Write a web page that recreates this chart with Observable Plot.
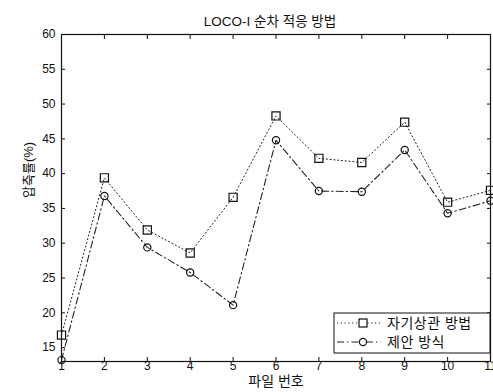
<!DOCTYPE html>
<html>
<head>
<meta charset="utf-8">
<script src="https://cdn.jsdelivr.net/npm/d3@7"></script>
<script src="https://cdn.jsdelivr.net/npm/@observablehq/plot@0.6"></script>
<style>
  html, body { margin: 0; padding: 0; background: #fff; }
  svg { display: block; }
</style>
</head>
<body>
<div id="chart"></div>
<script>
// File numbers and compression ratios (%) for the two methods
const files = [1, 2, 3, 4, 5, 6, 7, 8, 9, 10, 11];
const autoCorr = [16.8, 39.4, 31.9, 28.6, 36.6, 48.3, 42.2, 41.6, 47.4, 35.9, 37.6];
const proposed = [13.2, 36.8, 29.4, 25.8, 21.1, 44.8, 37.5, 37.4, 43.4, 34.3, 36.1];

const seriesNames = ["자기상관 방법", "제안 방식"];
const title = "LOCO-I 순차 적응 방법";
const xLabel = "파일 번호";
const yLabel = "압축률(%)";

const xTicks = [1, 2, 3, 4, 5, 6, 7, 8, 9, 10, 11];
const yTicks = [15, 20, 25, 30, 35, 40, 45, 50, 55, 60];

const rowsA = files.map((f, i) => ({file: f, value: autoCorr[i]}));
const rowsB = files.map((f, i) => ({file: f, value: proposed[i]}));

const FONT = "'Liberation Sans', Arial, 'Noto Sans CJK KR', sans-serif";
const W = 493, H = 392;
const mL = 61, mR = 3, mT = 34, mB = 31;

const dotted = "1.2,2.6";
const dashDot = "7,3,1.5,3";
const noLabel = () => "";

const plot = Plot.plot({
  width: W,
  height: H,
  marginLeft: mL,
  marginRight: mR,
  marginTop: mT,
  marginBottom: mB,
  style: {fontFamily: FONT, fontSize: "11px", color: "#111", background: "#fff", overflow: "visible"},
  x: {domain: [1, 11]},
  y: {domain: [13, 60]},
  marks: [
    Plot.frame({stroke: "#111", strokeWidth: 1.2}),
    Plot.axisX(xTicks, {anchor: "bottom", tickSize: -4, tickPadding: 4, label: null, fontSize: 12}),
    Plot.axisX(xTicks, {anchor: "top", tickSize: -4, tickFormat: noLabel, label: null}),
    Plot.axisY(yTicks, {anchor: "left", tickSize: -4, tickPadding: 10, label: null, fontSize: 12}),
    Plot.axisY(yTicks, {anchor: "right", tickSize: -4, tickFormat: noLabel, label: null}),
    Plot.line(rowsA, {x: "file", y: "value", stroke: "#222", strokeWidth: 1, strokeDasharray: dotted}),
    Plot.line(rowsB, {x: "file", y: "value", stroke: "#222", strokeWidth: 1.1, strokeDasharray: dashDot}),
    Plot.dot(rowsA, {x: "file", y: "value", symbol: "square", r: 4.6, stroke: "#111", strokeWidth: 1.2, fill: "none"}),
    Plot.dot(rowsB, {x: "file", y: "value", symbol: "circle", r: 3.6, stroke: "#111", strokeWidth: 1.2, fill: "none"}),
    Plot.text([title], {frameAnchor: "top", dx: -6, dy: -18, text: d => d, fontSize: 13.5, fill: "#111"}),
    Plot.text([xLabel], {frameAnchor: "bottom", dy: 24, text: d => d, fontSize: 14, fill: "#111"}),
    Plot.text([yLabel], {frameAnchor: "left", dx: -33, rotate: -90, text: d => d, fontSize: 13, fill: "#111"})
  ]
});

// Legend box in the lower-right corner of the axes
const svg = d3.select(plot);
const lg = svg.append("g").attr("font-family", FONT).attr("text-anchor", "start");
const bx = 334, by = 313, bw = 156, bh = 40;
lg.append("rect").attr("x", bx).attr("y", by).attr("width", bw).attr("height", bh)
  .attr("fill", "#fff").attr("stroke", "#111").attr("stroke-width", 1);
const entries = [
  {name: seriesNames[0], dash: dotted, sym: "square"},
  {name: seriesNames[1], dash: dashDot, sym: "circle"}
];
entries.forEach((e, i) => {
  const cy = by + 10 + i * 19;
  lg.append("line").attr("x1", bx + 3).attr("x2", bx + 47).attr("y1", cy).attr("y2", cy)
    .attr("stroke", "#222").attr("stroke-width", 1).attr("stroke-dasharray", e.dash);
  if (e.sym === "square") {
    lg.append("rect").attr("x", bx + 29 - 4).attr("y", cy - 4).attr("width", 8).attr("height", 8)
      .attr("fill", "#fff").attr("stroke", "#111").attr("stroke-width", 1.2);
  } else {
    lg.append("circle").attr("cx", bx + 29).attr("cy", cy).attr("r", 3.6)
      .attr("fill", "#fff").attr("stroke", "#111").attr("stroke-width", 1.2);
  }
  lg.append("text").attr("x", bx + 53).attr("y", cy).attr("dy", "0.35em")
    .attr("font-size", 14).attr("letter-spacing", "0.5px").attr("fill", "#111").text(e.name);
});

document.getElementById("chart").appendChild(plot);
</script>
</body>
</html>
